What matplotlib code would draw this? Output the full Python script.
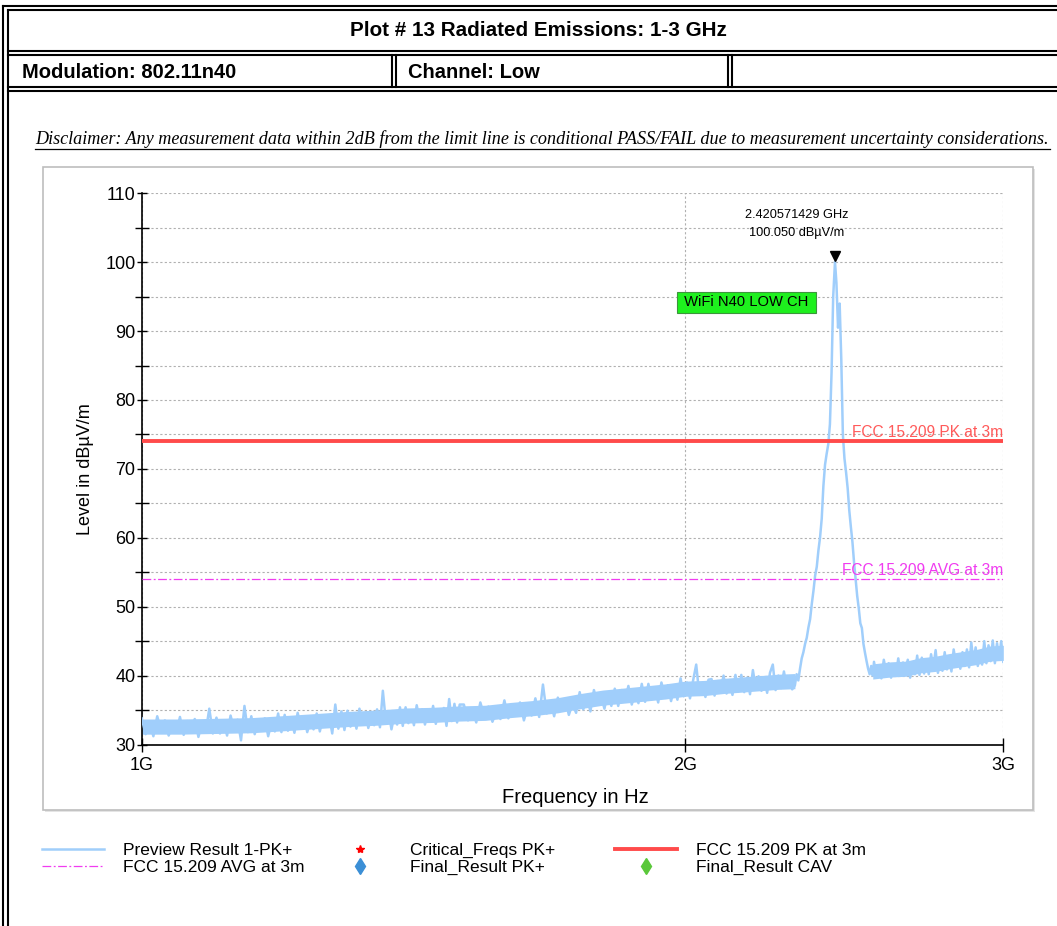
import matplotlib
matplotlib.use('Agg')
import matplotlib.pyplot as plt
import matplotlib.ticker as mticker
import matplotlib.transforms as mtransforms
from matplotlib.lines import Line2D
from matplotlib.patches import Rectangle

# sweep points (MHz) and peak detector level (dBuV/m)
freq_mhz = [
    1000, 1005, 1010, 1015, 1020, 1025, 1030, 1035, 1040, 1045,
    1050, 1055, 1060, 1065, 1070, 1075, 1080, 1085, 1090, 1095,
    1100, 1105, 1110, 1115, 1120, 1125, 1130, 1135, 1140, 1145,
    1150, 1155, 1160, 1165, 1170, 1175, 1180, 1185, 1190, 1195,
    1200, 1205, 1210, 1215, 1220, 1225, 1230, 1235, 1240, 1245,
    1250, 1255, 1260, 1265, 1270, 1275, 1280, 1285, 1290, 1295,
    1300, 1305, 1310, 1315, 1320, 1325, 1330, 1335, 1340, 1345,
    1350, 1355, 1360, 1365, 1370, 1375, 1380, 1385, 1390, 1395,
    1400, 1405, 1410, 1415, 1420, 1425, 1430, 1435, 1440, 1445,
    1450, 1455, 1460, 1465, 1470, 1475, 1480, 1485, 1490, 1495,
    1500,
    1508, 1516, 1524, 1532, 1540, 1548, 1556, 1564, 1572, 1580,
    1588, 1596, 1604, 1612, 1620, 1628, 1636, 1644, 1652, 1660,
    1668, 1676, 1684, 1692, 1700, 1708, 1716, 1724, 1732, 1740,
    1748, 1756, 1764, 1772, 1780, 1788, 1796, 1804, 1812, 1820,
    1828, 1836, 1844, 1852, 1860, 1868, 1876, 1884, 1892, 1900,
    1908, 1916, 1924, 1932, 1940, 1948, 1956, 1964, 1972, 1980,
    1988, 1996, 2004, 2012, 2020, 2028, 2036, 2044, 2052, 2060,
    2068, 2076, 2084, 2092, 2100, 2108, 2116, 2124, 2132, 2140,
    2148, 2156, 2164, 2172, 2180, 2188, 2196, 2204, 2212, 2220,
    2228, 2236, 2244, 2252, 2260, 2268, 2276, 2284, 2292,
    2300, 2305, 2310, 2315, 2320, 2325, 2330, 2335, 2340, 2345,
    2350, 2355, 2360, 2365, 2370, 2375, 2380, 2385, 2390, 2395,
    2400, 2405, 2410, 2415, 2420.571429, 2425, 2430, 2435, 2440, 2445,
    2450, 2455, 2460, 2465, 2470, 2475, 2480, 2485, 2490, 2495,
    2500, 2505, 2510, 2515, 2520, 2525, 2530, 2535, 2540,
    2544, 2552, 2560, 2568, 2576, 2584, 2592, 2600, 2608, 2616,
    2624, 2632, 2640, 2648, 2656, 2664, 2672, 2680, 2688, 2696,
    2704, 2712, 2720, 2728, 2736, 2744, 2752, 2760, 2768, 2776,
    2784, 2792, 2800, 2808, 2816, 2824, 2832, 2840, 2848, 2856,
    2864, 2872, 2880, 2888, 2896, 2904, 2912, 2920, 2928, 2936,
    2944, 2952, 2960, 2968, 2976, 2984, 2992, 3000,
]
level_pk = [
    33.8, 31.5, 33.2, 31.2, 34.1, 32.1, 33.5, 31.3, 32.9, 31.7,
    34.0, 31.4, 33.4, 32.4, 33.7, 31.1, 33.1, 31.8, 35.2, 31.6,
    33.9, 31.6, 33.3, 31.3, 34.2, 32.2, 33.6, 30.6, 35.6, 31.8,
    34.1, 31.5, 33.5, 32.5, 33.8, 31.2, 33.2, 31.9, 34.5, 31.8,
    34.3, 32.0, 33.7, 31.7, 34.6, 32.6, 34.0, 31.8, 33.4, 32.2,
    34.5, 31.9, 33.9, 32.9, 34.2, 31.6, 35.8, 32.3, 34.8, 32.1,
    34.9, 32.6, 34.3, 32.3, 35.2, 33.2, 34.6, 32.4, 34.0, 32.8,
    35.1, 32.5, 37.8, 33.5, 34.8, 32.2, 34.2, 32.9, 35.4, 32.7,
    35.4, 33.1, 34.8, 32.8, 35.7, 33.7, 35.1, 32.9, 34.5, 33.3,
    35.6, 33.0, 35.0, 34.0, 35.3, 32.7, 36.6, 33.4, 35.9, 33.2,
    35.8,
    35.8, 33.5, 35.2, 33.2, 36.1, 34.1, 35.5, 33.3, 34.9, 33.7,
    36.4, 33.8, 35.8, 34.8, 36.1, 33.5, 35.5, 34.2, 36.7, 34.0,
    38.7, 34.5, 36.2, 34.1, 36.8, 35.1, 36.5, 34.3, 35.9, 34.6,
    37.6, 35.1, 36.9, 34.8, 37.9, 36.0, 37.1, 35.2, 37.5, 35.6,
    38.1, 35.6, 37.9, 36.4, 38.5, 35.8, 37.4, 36.0, 38.8, 36.2,
    38.8, 36.6, 38.1, 36.1, 39.0, 37.2, 38.6, 36.3, 38.3, 36.5,
    39.6, 37.0, 39.0, 36.7, 39.3, 41.6, 37.2, 38.8, 36.9, 39.4,
    39.5, 37.1, 39.2, 38.0, 40.0, 37.4, 38.8, 37.2, 40.1, 37.7,
    40.1, 37.6, 39.7, 37.3, 40.8, 38.2, 39.9, 37.8, 39.3, 37.5,
    40.4, 41.6, 37.9, 40.0, 38.2, 40.6, 38.3, 39.8, 38.0,
    38.6, 40.2, 39.3, 41.0, 42.5, 43.4, 44.6, 45.5, 47.0, 48.2,
    50.4, 52.3, 54.5, 55.8, 58.2, 60.1, 62.8, 67.5, 70.6, 72.2,
    73.6, 76.5, 84.0, 95.0, 100.05, 97.0, 90.5, 94.0, 86.0, 75.0,
    71.5, 69.5, 67.2, 64.0, 61.6, 59.4, 56.5, 54.0, 51.6, 49.8,
    47.6, 46.9, 44.6, 43.3, 42.1, 41.0, 40.2, 41.4, 40.0,
    42.0, 39.9, 41.5, 39.6, 42.3, 40.5, 41.8, 39.7, 41.3, 40.1,
    42.5, 40.0, 41.9, 40.8, 42.3, 39.7, 41.6, 40.2, 42.9, 40.1,
    42.6, 40.3, 42.3, 40.2, 43.1, 41.2, 43.7, 40.4, 42.1, 40.7,
    43.4, 40.9, 42.7, 40.6, 43.8, 41.8, 43.0, 41.0, 43.4, 41.4,
    43.8, 41.2, 44.8, 42.0, 44.1, 41.4, 43.1, 41.6, 45.0, 41.8,
    44.4, 42.1, 45.1, 41.8, 44.7, 42.5, 45.0, 42.0,
]

# solid core of the noise floor (between sweep-to-sweep minima and maxima)
floor_lo_mhz = [1000, 1050, 1100, 1150, 1200, 1250, 1300, 1350, 1400, 1450,
                1500, 1550, 1600, 1650, 1700, 1750, 1800, 1850, 1900, 1950,
                2000, 2050, 2100, 2150, 2200, 2250, 2300]
floor_lo_min = [31.5, 31.5, 31.6, 31.7, 32.0, 32.3, 32.6, 32.8, 33.1, 33.2,
                33.4, 33.5, 33.9, 34.2, 34.6, 35.2, 35.7, 36.0, 36.3, 36.6,
                37.0, 37.1, 37.4, 37.6, 37.8, 38.0, 38.1]
floor_lo_max = [33.7, 33.7, 33.8, 33.9, 34.2, 34.5, 34.8, 35.0, 35.3, 35.4,
                35.6, 35.7, 36.1, 36.4, 36.8, 37.4, 37.9, 38.2, 38.5, 38.8,
                39.2, 39.3, 39.6, 39.8, 40.0, 40.2, 40.3]
floor_hi_mhz = [2540, 2600, 2650, 2700, 2750, 2800, 2850, 2900, 2950, 3000]
floor_hi_min = [39.5, 39.8, 39.9, 40.4, 40.6, 41.0, 41.3, 41.6, 42.1, 42.2]
floor_hi_max = [41.7, 42.0, 42.1, 42.6, 42.8, 43.2, 43.5, 43.8, 44.3, 44.4]

peak_freq_hz = 2.420571429e9
peak_level = 100.050
pk_limit = 74.0
avg_limit = 54.0

x_ticks_hz = [1e9, 2e9, 3e9]
x_tick_labels = ['1G', '2G', '3G']
y_major = [30, 40, 50, 60, 70, 80, 90, 100, 110]
y_minor = [35, 45, 55, 65, 75, 85, 95, 105]

W, H = 1057, 926
narrow = ['Liberation Sans Narrow', 'Liberation Sans']
plt.rcParams['font.family'] = ['Liberation Sans', 'DejaVu Sans']
trace_color = '#a0cefb'


def fx(x):
    return x / W


def fy(y):
    return 1 - y / H


fig = plt.figure(figsize=(W / 100, H / 100), dpi=100)

# report table frame (double lines)
frame_kw = dict(color='black', lw=1.5, transform=fig.transFigure)
for x0, y0 in [(3, 6), (8, 10)]:
    fig.add_artist(Line2D([fx(x0), fx(x0)], [fy(y0), 0], **frame_kw))
    fig.add_artist(Line2D([fx(x0), 1], [fy(y0), fy(y0)], **frame_kw))
for y0 in [51, 55, 87, 91]:
    fig.add_artist(Line2D([fx(8), 1], [fy(y0), fy(y0)], **frame_kw))
for x0 in [392, 396, 728, 732]:
    fig.add_artist(Line2D([fx(x0), fx(x0)], [fy(55), fy(87)], **frame_kw))

fig.text(fx(538), fy(31), 'Plot # 13 Radiated Emissions: 1-3 GHz', ha='center', va='center',
         fontsize=14.9, fontweight='bold', family=narrow)
fig.text(fx(22), fy(72), 'Modulation: 802.11n40', ha='left', va='center',
         fontsize=14.5, fontweight='bold', family=narrow)
fig.text(fx(408), fy(72), 'Channel: Low', ha='left', va='center',
         fontsize=14.5, fontweight='bold', family=narrow)

fig.text(fx(35), fy(139),
         'Disclaimer: Any measurement data within 2dB from the limit line is conditional PASS/FAIL '
         'due to measurement uncertainty considerations.',
         ha='left', va='center', fontsize=13.1, style='italic', family=['Liberation Serif'])
fig.add_artist(Line2D([fx(35), fx(1050)], [fy(149), fy(149)], color='black', lw=0.9,
                      transform=fig.transFigure))

# chart panel with a light shadow
fig.add_artist(Rectangle((fx(45), fy(812)), (1033 - 43) / W, (810 - 167) / H,
                         transform=fig.transFigure, facecolor='#e4e4e4', edgecolor='none', zorder=0))
fig.add_artist(Rectangle((fx(43), fy(810)), (1033 - 43) / W, (810 - 167) / H,
                         transform=fig.transFigure, facecolor='white', edgecolor='#bdbdbd',
                         lw=1.2, zorder=0.5))

ax = fig.add_axes([141.7 / W, fy(744.5), (1003.3 - 141.7) / W, (744.5 - 193.3) / H])
ax.set_zorder(2)
ax.patch.set_alpha(0)

freq_hz = [f * 1e6 for f in freq_mhz]
ax.fill_between([f * 1e6 for f in floor_lo_mhz], floor_lo_min, floor_lo_max,
                color=trace_color, lw=0, zorder=2.5)
ax.fill_between([f * 1e6 for f in floor_hi_mhz], floor_hi_min, floor_hi_max,
                color=trace_color, lw=0, zorder=2.5)
trace, = ax.plot(freq_hz, level_pk, color=trace_color, lw=1.8, zorder=3,
                 label='Preview Result 1-PK+')
pk_line = ax.axhline(pk_limit, color='#ff4b4b', lw=2.8, zorder=4, label='FCC 15.209 PK at 3m')
avg_line = ax.axhline(avg_limit, color='#f03cf0', lw=0.9, dashes=[7, 2, 1.5, 2], zorder=4,
                      label='FCC 15.209 AVG at 3m')
crit, = ax.plot([], [], ls='none', marker='*', color='red', ms=6, label='Critical_Freqs PK+')
fin_pk, = ax.plot([], [], ls='none', marker='d', color='#3b8fd6', ms=8, label='Final_Result PK+')
fin_cav, = ax.plot([], [], ls='none', marker='d', color='#5ac83a', ms=8, label='Final_Result CAV')

ax.text(3e9, pk_limit + 0.2, 'FCC 15.209 PK at 3m', ha='right', va='bottom', color='#ff5a5a',
        fontsize=11.2, zorder=5)
ax.text(3e9, avg_limit + 0.2, 'FCC 15.209 AVG at 3m', ha='right', va='bottom', color='#f03cf0',
        fontsize=11.2, zorder=5)

# peak marker
mk_tr = mtransforms.offset_copy(ax.transData, fig=fig, x=0, y=6, units='dots')
ax.plot([peak_freq_hz], [peak_level], marker='v', color='black', ms=7, ls='none',
        transform=mk_tr, zorder=6)
ax.text(0.7606, 0.944, f'{peak_freq_hz / 1e9:.9f} GHz\n{peak_level:.3f} dB\u00b5V/m',
        transform=ax.transAxes, ha='center', va='center', fontsize=9.2, linespacing=1.65)
ax.text(0.7014, 0.8019, ' WiFi N40 LOW CH ', transform=ax.transAxes, ha='center', va='center',
        fontsize=10.6, zorder=7,
        bbox=dict(boxstyle='square,pad=0.22', facecolor='#1ef01e', edgecolor='#3c963c', lw=0.8))

ax.set_xscale('log')
ax.set_xlim(1e9, 3e9)
ax.set_ylim(30, 110)
ax.set_xticks(x_ticks_hz)
ax.set_xticklabels(x_tick_labels)
ax.xaxis.set_minor_locator(mticker.NullLocator())
ax.set_yticks(y_major)
ax.set_yticks(y_minor, minor=True)
ax.grid(which='both', axis='y', ls=(0, (2, 2)), color='#b0b0b0', lw=0.8)
ax.grid(which='major', axis='x', ls=(0, (2, 2)), color='#b0b0b0', lw=0.8)
for s in ['top', 'right']:
    ax.spines[s].set_visible(False)
for s in ['left', 'bottom']:
    ax.spines[s].set_linewidth(1.2)
ax.tick_params(axis='y', which='major', direction='inout', length=7, width=1, pad=1, labelsize=13)
ax.tick_params(axis='y', which='minor', direction='inout', length=10, width=1)
ax.tick_params(axis='x', which='major', direction='inout', length=10, width=1, pad=4, labelsize=13)

ax.set_xlabel('Frequency in Hz', fontsize=14.5, va='center')
ax.xaxis.set_label_coords(0.503, -0.097)
ax.set_ylabel('Level in dB\u00b5V/m', fontsize=13, va='center')
ax.yaxis.set_label_coords(-0.065, 0.5)

# legend, three columns below the panel
leg_kw = dict(loc='upper left', frameon=False, fontsize=12.5, borderpad=0, borderaxespad=0,
              handlelength=3.57, handletextpad=1.1, labelspacing=0.1)
fig.legend([trace, avg_line], [trace.get_label(), avg_line.get_label()],
           bbox_to_anchor=(fx(42), fy(843)), **leg_kw)
fig.legend([crit, fin_pk], [crit.get_label(), fin_pk.get_label()],
           bbox_to_anchor=(fx(329), fy(843)), **leg_kw)
fig.legend([pk_line, fin_cav], [pk_line.get_label(), fin_cav.get_label()],
           bbox_to_anchor=(fx(615), fy(843)), **leg_kw)

fig.savefig('out.png', dpi=100)
